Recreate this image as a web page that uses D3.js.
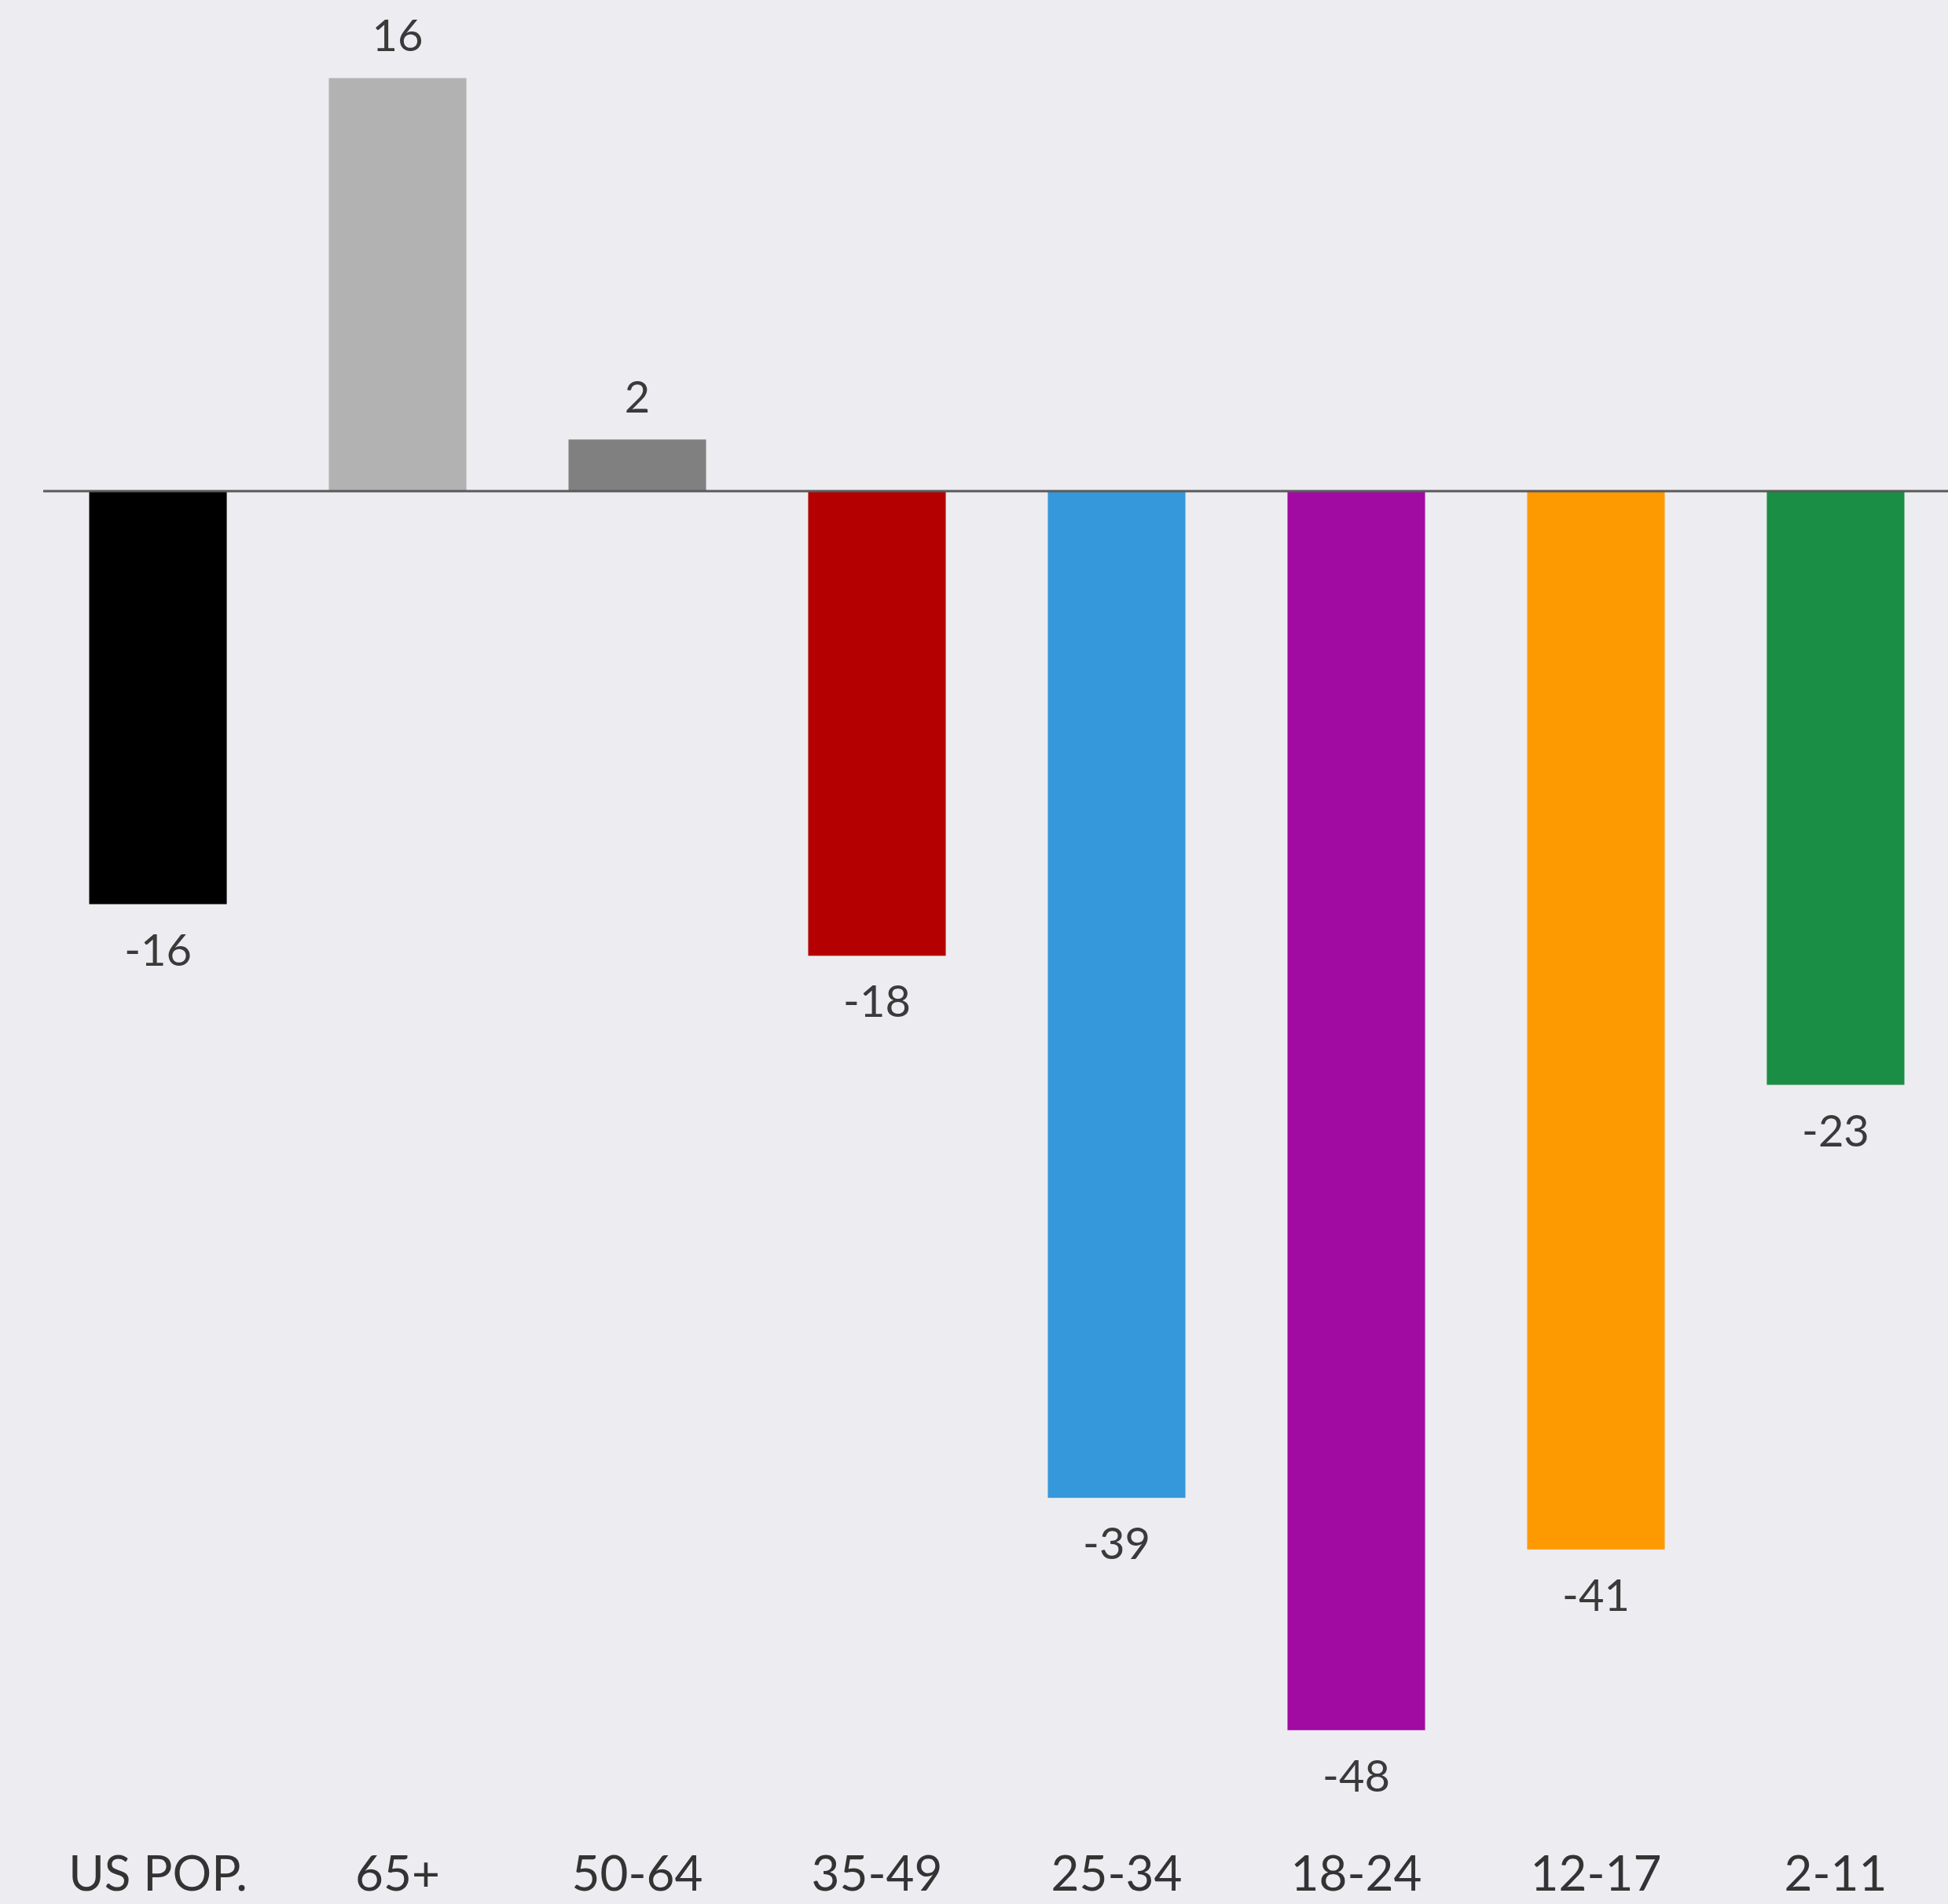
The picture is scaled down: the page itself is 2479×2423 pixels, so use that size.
<!DOCTYPE html>
<html>
<head>
<meta charset="utf-8">
<script src="https://cdn.jsdelivr.net/npm/d3@7"></script>
<style>
  html, body { margin: 0; padding: 0; background: #edecf0; }
  svg { display: block; }
</style>
</head>
<body>
<script>
// Change in TV viewing by age group (percent)
const categories = ["US POP.", "65+", "50-64", "35-49", "25-34", "18-24", "12-17", "2-11"];
const values = [-16, 16, 2, -18, -39, -48, -41, -23];
const colors = ["#000000", "#b2b2b2", "#808080", "#b40000", "#3598db", "#a10ba2", "#fd9a01", "#1a8e44"];

const W = 2479, H = 2423;
const svg = d3.select("body").append("svg").attr("width", W).attr("height", H);
svg.append("rect").attr("width", W).attr("height", H).attr("fill", "#edecf0");

const pxPerUnit = 32.85, zeroY = 625;
const y = d3.scaleLinear()
  .domain([-50, 20])
  .range([zeroY + 50 * pxPerUnit, zeroY - 20 * pxPerUnit]);

const x = d3.scaleBand()
  .domain(categories)
  .range([22, 2515])
  .paddingInner(0.426)
  .paddingOuter(0.3);

const font = "Lato, 'Open Sans', sans-serif";

// Bars
svg.append("g").selectAll("rect")
  .data(categories)
  .join("rect")
  .attr("x", d => x(d))
  .attr("width", x.bandwidth())
  .attr("y", (d, i) => y(Math.max(0, values[i])))
  .attr("height", (d, i) => Math.abs(y(values[i]) - y(0)))
  .attr("fill", (d, i) => colors[i]);

// Zero line
svg.append("line")
  .attr("x1", 55).attr("x2", W)
  .attr("y1", y(0)).attr("y2", y(0))
  .attr("stroke", "#5a5a5a").attr("stroke-width", 3);

// Value labels
svg.append("g").selectAll("text")
  .data(categories)
  .join("text")
  .attr("x", d => x(d) + x.bandwidth() / 2)
  .attr("y", (d, i) => values[i] >= 0 ? y(values[i]) - 34 : y(values[i]) + 78)
  .attr("text-anchor", "middle")
  .attr("font-family", font)
  .attr("font-size", 56)
  .attr("fill", "#3a3a3a")
  .text((d, i) => values[i]);

// Category axis labels
const axis = d3.axisBottom(x).tickSize(0).tickPadding(0);
const gAxis = svg.append("g")
  .attr("transform", `translate(0, 2362)`)
  .call(axis);
gAxis.select(".domain").remove();
gAxis.selectAll("text")
  .attr("font-family", font)
  .attr("font-size", 62)
  .attr("fill", "#333333")
  .attr("dy", "0.71em");
</script>
</body>
</html>
